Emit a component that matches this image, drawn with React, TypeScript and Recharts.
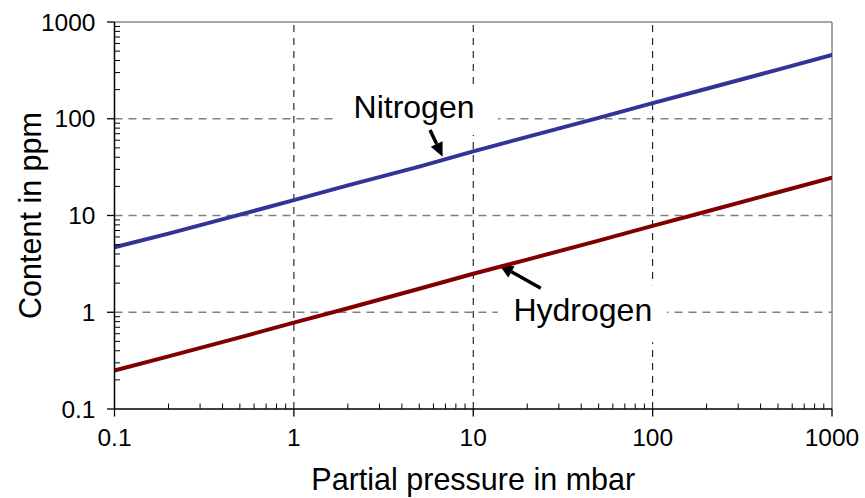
import { LineChart, Line, XAxis, YAxis, ReferenceLine, Label } from "recharts";

// partial pressure (mbar) and dissolved content (ppm)
const pressure = [0.1, 0.2, 0.5, 1, 2, 5, 10, 20, 50, 100, 200, 500, 1000];
const nitrogen = [4.7, 6.5, 10.2, 14.4, 20.5, 32, 46, 65, 102, 145, 204, 322, 456];
const hydrogen = [0.25, 0.35, 0.55, 0.78, 1.1, 1.75, 2.5, 3.5, 5.5, 7.8, 11, 17.4, 24.6];

const majorTicks = [0.1, 1, 10, 100, 1000];
const minorSteps = [2, 3, 4, 5, 6, 7, 8, 9];
const allTicks = majorTicks.flatMap((m, i) =>
  i < majorTicks.length - 1 ? [m, ...minorSteps.map((s) => +(m * s).toPrecision(3))] : [m]
);
const gridValues = [1, 10, 100];

const data = pressure.map((p, i) => ({ p, n: nitrogen[i], h: hydrogen[i] }));

const FONT = "'Liberation Sans', Arial, sans-serif";
const isMajor = (v: number) => majorTicks.includes(v);

function YTick({ x, y, payload }: any) {
  const v = payload.value;
  if (!isMajor(v)) return <line x1={x} x2={x + 5.5} y1={y} y2={y} stroke="#000" strokeWidth={1} />;
  return (
    <g>
      <line x1={x - 7.5} x2={x} y1={y} y2={y} stroke="#000" strokeWidth={1.3} />
      <text x={x - 19} y={y} textAnchor="end" dominantBaseline="central" fontSize={24.5} fontFamily={FONT} fill="#000">
        {String(v)}
      </text>
    </g>
  );
}

function XTick({ x, y, payload }: any) {
  const v = payload.value;
  if (!isMajor(v)) return <line x1={x} x2={x} y1={y} y2={y - 5.5} stroke="#000" strokeWidth={1} />;
  return (
    <g>
      <line x1={x} x2={x} y1={y} y2={y + 7.5} stroke="#000" strokeWidth={1.3} />
      <text x={x} y={y + 28} textAnchor="middle" dominantBaseline="central" fontSize={24.5} fontFamily={FONT} fill="#000">
        {String(v)}
      </text>
    </g>
  );
}

// arrow with a white-backed text box, offsets measured from the arrow tail
function callout(text: string, box: [number, number, number, number], tx: number, ty: number) {
  return (props: any) => {
    const { x1, y1, x2, y2 } = props;
    const ang = Math.atan2(y2 - y1, x2 - x1);
    const len = 14;
    const w = 6.5;
    const bx = x2 - len * Math.cos(ang);
    const by = y2 - len * Math.sin(ang);
    const px = -Math.sin(ang) * w;
    const py = Math.cos(ang) * w;
    return (
      <g>
        <rect x={x1 + box[0]} y={y1 + box[1]} width={box[2]} height={box[3]} fill="#fff" />
        <text x={x1 + tx} y={y1 + ty} textAnchor="middle" dominantBaseline="central" fontSize={32} fontFamily={FONT} fill="#000">
          {text}
        </text>
        <line x1={x1} y1={y1} x2={bx} y2={by} stroke="#000" strokeWidth={3.5} />
        <polygon points={`${x2},${y2} ${bx + px},${by + py} ${bx - px},${by - py}`} fill="#000" />
      </g>
    );
  };
}

export default function App() {
  return (
    <div style={{ position: "absolute", left: 0, top: 0, background: "#fff" }}>
      <LineChart width={865} height={498} data={data} margin={{ top: 22, right: 33, bottom: 0, left: 0 }}>
        <XAxis
          dataKey="p"
          type="number"
          scale="log"
          domain={[0.1, 1000]}
          ticks={allTicks}
          interval={0}
          allowDataOverflow
          height={89}
          tickSize={0}
          tickMargin={0}
          tickLine={false}
          tick={<XTick />}
          axisLine={{ stroke: "#000", strokeWidth: 1.5 }}
        >
          <Label
            content={({ viewBox }: any) => (
              <text
                x={viewBox.x + viewBox.width / 2}
                y={viewBox.y + 70}
                textAnchor="middle"
                dominantBaseline="central"
                fontSize={30.5}
                fontFamily={FONT}
                fill="#000"
              >
                Partial pressure in mbar
              </text>
            )}
          />
        </XAxis>
        <YAxis
          type="number"
          scale="log"
          domain={[0.1, 1000]}
          ticks={allTicks}
          interval={0}
          allowDataOverflow
          width={114.5}
          tickSize={0}
          tickMargin={0}
          tickLine={false}
          tick={<YTick />}
          axisLine={{ stroke: "#000", strokeWidth: 1.5 }}
        >
          <Label
            content={({ viewBox }: any) => {
              const cx = viewBox.x + 30;
              const cy = viewBox.y + viewBox.height / 2;
              return (
                <text
                  x={cx}
                  y={cy}
                  transform={`rotate(-90 ${cx} ${cy})`}
                  textAnchor="middle"
                  dominantBaseline="central"
                  fontSize={30.5}
                  fontFamily={FONT}
                  fill="#000"
                >
                  Content in ppm
                </text>
              );
            }}
          />
        </YAxis>

        {gridValues.map((v) => (
          <ReferenceLine key={`h${v}`} y={v} stroke="#808080" strokeWidth={1.3} strokeDasharray="8 6" />
        ))}
        {gridValues.map((v) => (
          <ReferenceLine key={`v${v}`} x={v} stroke="#000" strokeWidth={1} strokeDasharray="7 6" />
        ))}
        <ReferenceLine y={1000} stroke="#888" strokeWidth={1.5} ifOverflow="visible" />
        <ReferenceLine x={1000} stroke="#888" strokeWidth={1.5} ifOverflow="visible" />

        <ReferenceLine
          segment={[{ x: 5.74, y: 76.5 }, { x: 6.75, y: 40.5 }]}
          shape={callout("Nitrogen", [-92, -46, 160, 51], -16, -23)}
          ifOverflow="visible"
        />
        <ReferenceLine
          segment={[{ x: 23.8, y: 1.77 }, { x: 13.96, y: 3.08 }]}
          shape={callout("Hydrogen", [-43, -3, 169, 57], 42, 22)}
          ifOverflow="visible"
        />

        <Line
          type="linear"
          dataKey="n"
          stroke="#333399"
          strokeWidth={4}
          strokeLinecap="round"
          dot={false}
          isAnimationActive={false}
        />
        <Line
          type="linear"
          dataKey="h"
          stroke="#800000"
          strokeWidth={4}
          strokeLinecap="round"
          dot={false}
          isAnimationActive={false}
        />
      </LineChart>
    </div>
  );
}
